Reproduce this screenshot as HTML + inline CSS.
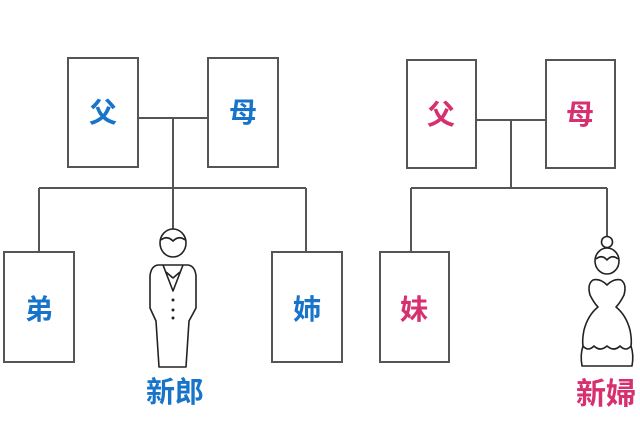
<!DOCTYPE html><html><head><style>body{margin:0;background:#fff}svg{display:block}</style></head><body>
<svg width="640" height="427" viewBox="0 0 640 427" xmlns="http://www.w3.org/2000/svg">
<g fill="none" stroke="#555" stroke-width="2">
<rect x="68" y="58" width="70" height="109"/><rect x="208" y="58" width="70" height="109"/>
<path d="M138 118H208M173 118V188M39 188H306M39 188V252M173 188V229M306 188V252"/>
<rect x="4" y="252" width="70" height="110"/><rect x="272" y="252" width="70" height="110"/>
<rect x="407" y="60" width="69" height="108"/><rect x="546" y="60" width="69" height="108"/>
<path d="M476 120H546M511 120V188M411 188H607M411 188V252M607 188V237"/>
<rect x="380" y="252" width="69" height="110"/>
</g>
<g fill="none" stroke="#222" stroke-width="1.6" stroke-linejoin="round">
<ellipse cx="173" cy="243" rx="13" ry="14"/><path d="M161 240Q167 235 173 241Q179 235 185 240"/>
<path d="M158 265Q151 266 150 276V308L156 321L159 367H186L189 321L196 308V276Q195 266 188 265Z"/>
<path d="M163 265L173 291L183 265M166 272L173 278L180 272"/>
<circle cx="173" cy="300" r="0.7"/><circle cx="173" cy="310" r="0.7"/><circle cx="173" cy="318" r="0.7"/>
<circle cx="607" cy="242" r="5.5"/><ellipse cx="607" cy="261" rx="12" ry="13"/><path d="M596 259Q602 254 607 260Q612 254 618 259"/>
<path d="M607 285Q600 278 593 280Q587 284 590 295Q594 303 598 307Q588 315 584 330Q582 340 583 346Q580 355 582 366H632Q634 355 631 346Q632 340 630 330Q626 315 616 307Q620 303 624 295Q627 284 621 280Q614 278 607 285Z"/>
<path d="M583 346Q588 352 594 346Q600 352 607 346Q614 352 620 346Q626 352 631 346"/>
</g>
<g font-family="'Liberation Sans','Noto Sans CJK SC',sans-serif" font-weight="bold" font-size="28" text-anchor="middle">
<g fill="#1874c8"><text x="103" y="122">父</text><text x="243" y="122">母</text><text x="39" y="319">弟</text><text x="307" y="319">姉</text><text x="175" y="402" font-size="29">新郎</text></g>
<g fill="#d6306f"><text x="441" y="124">父</text><text x="580" y="124">母</text><text x="414" y="319">妹</text><text x="606" y="404" font-size="30">新婦</text></g>
</g>
</svg></body></html>
